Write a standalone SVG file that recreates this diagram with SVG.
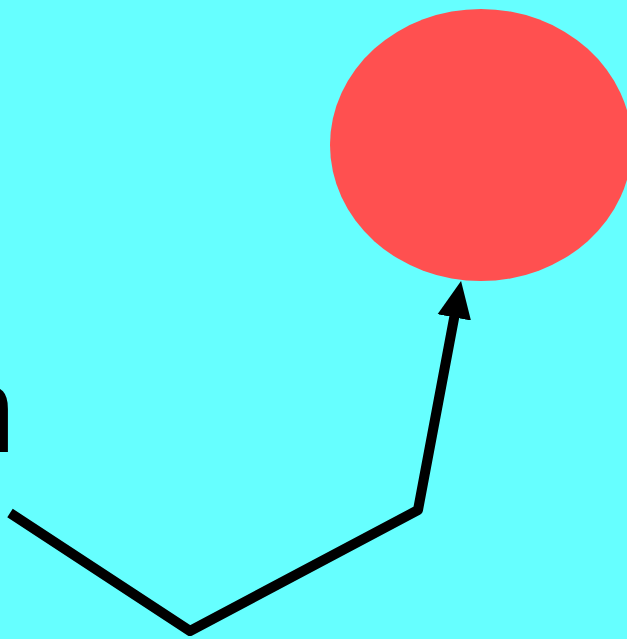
<svg xmlns="http://www.w3.org/2000/svg" width="627" height="639" viewBox="0 0 627 639">
<style>
.edge{fill:none;stroke:#000;stroke-width:10;stroke-linejoin:round}
.lbl{font-family:"Liberation Sans",Arial,sans-serif;font-size:123px;fill:#000}
</style>
<defs>
<marker id="ah" markerUnits="userSpaceOnUse" markerWidth="40" markerHeight="40" viewBox="0 0 40 40" refX="1" refY="20" orient="auto">
<path d="M0,3 L37,20 L0,37 Z" fill="#000"/>
</marker>
</defs>
<rect width="627" height="639" fill="#66FFFF"/>
<g id="node-target">
<ellipse cx="481" cy="145" rx="151" ry="136" fill="#FF5050"/>
</g>
<g id="node-source">
<text class="lbl" x="16" y="452" text-anchor="end">n</text>
</g>
<g id="connectors">
<polyline class="edge" points="10,513 190,631 418,510 454.4,316.4" marker-end="url(#ah)"/>
</g>
</svg>
